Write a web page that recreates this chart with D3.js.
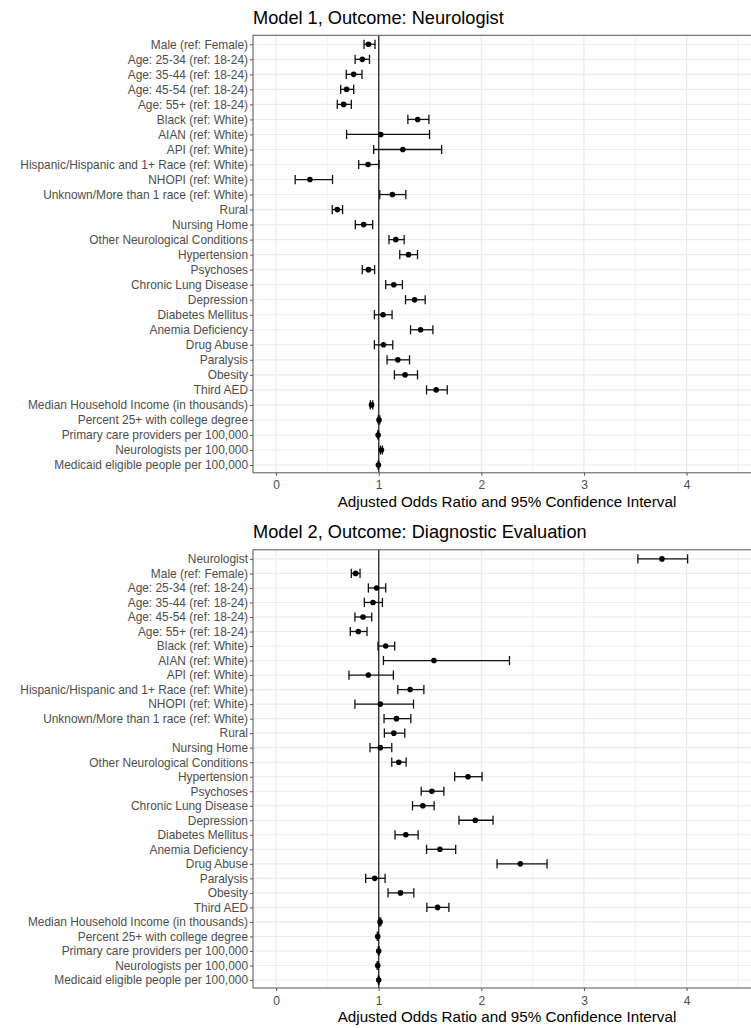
<!DOCTYPE html>
<html>
<head>
<meta charset="utf-8">
<script src="https://cdn.jsdelivr.net/npm/d3@7"></script>
<style>
  body { margin: 0; background: #fff; }
  svg { display: block; font-family: 'Liberation Sans', Arial, sans-serif; }
  .grid line { stroke: #ebebeb; }
  .y-label { fill: #4d4d4d; font-size: 11.9px; }
  .x-tick { fill: #4d4d4d; font-size: 12px; }
</style>
</head>
<body>
<div id="vis"></div>
<script>
const covariates = [
  'Male (ref: Female)', 'Age: 25-34 (ref: 18-24)', 'Age: 35-44 (ref: 18-24)',
  'Age: 45-54 (ref: 18-24)', 'Age: 55+ (ref: 18-24)', 'Black (ref: White)',
  'AIAN (ref: White)', 'API (ref: White)', 'Hispanic/Hispanic and 1+ Race (ref: White)',
  'NHOPI (ref: White)', 'Unknown/More than 1 race (ref: White)', 'Rural',
  'Nursing Home', 'Other Neurological Conditions', 'Hypertension', 'Psychoses',
  'Chronic Lung Disease', 'Depression', 'Diabetes Mellitus', 'Anemia Deficiency',
  'Drug Abuse', 'Paralysis', 'Obesity', 'Third AED',
  'Median Household Income (in thousands)', 'Percent 25+ with college degree',
  'Primary care providers per 100,000', 'Neurologists per 100,000',
  'Medicaid eligible people per 100,000'
]

// Model 1, outcome: neurologist
const labels1 = covariates
const or1 = [0.90, 0.84, 0.756, 0.687, 0.658, 1.38, 1.02, 1.235, 0.896, 0.33, 1.134, 0.596,
  0.853, 1.166, 1.29, 0.90, 1.147, 1.349, 1.042, 1.408, 1.046, 1.186, 1.257, 1.56,
  0.93, 1.003, 0.994, 1.026, 0.997]
const lo1 = [0.857, 0.77, 0.684, 0.629, 0.596, 1.284, 0.687, 0.951, 0.805, 0.186, 1.01, 0.547,
  0.772, 1.10, 1.205, 0.84, 1.068, 1.261, 0.958, 1.31, 0.958, 1.081, 1.153, 1.466,
  0.918, 0.995, 0.99, 1.016, 0.994]
const hi1 = [0.964, 0.91, 0.837, 0.756, 0.733, 1.489, 1.495, 1.613, 1.003, 0.55, 1.264, 0.648,
  0.941, 1.248, 1.378, 0.96, 1.231, 1.453, 1.13, 1.528, 1.137, 1.30, 1.378, 1.668,
  0.942, 1.011, 0.998, 1.036, 1.0]

// Model 2, outcome: diagnostic evaluation
const labels2 = ['Neurologist'].concat(covariates)
const or2 = [3.76, 0.775, 0.98, 0.944, 0.847, 0.801, 1.068, 1.538, 0.899, 1.306, 1.016, 1.173,
  1.147, 1.016, 1.195, 1.87, 1.518, 1.43, 1.941, 1.264, 1.596, 2.38, 0.961, 1.212, 1.574,
  1.013, 0.99, 1.0, 0.99, 1.0]
const lo2 = [3.525, 0.733, 0.899, 0.86, 0.768, 0.723, 0.993, 1.046, 0.71, 1.186, 0.768, 1.052,
  1.055, 0.915, 1.127, 1.74, 1.414, 1.329, 1.782, 1.159, 1.466, 2.153, 0.873, 1.091, 1.469,
  1.006, 0.986, 0.996, 0.985, 0.996]
const hi2 = [4.01, 0.818, 1.068, 1.036, 0.932, 0.886, 1.156, 2.274, 1.143, 1.44, 1.339, 1.313,
  1.254, 1.127, 1.267, 2.007, 1.635, 1.54, 2.114, 1.384, 1.75, 2.64, 1.062, 1.342, 1.684,
  1.02, 0.994, 1.004, 0.995, 1.004]

const xTicks = [0, 1, 2, 3, 4]
const xMinor = [0.5, 1.5, 2.5, 3.5, 4.5]
const xTitle = 'Adjusted Odds Ratio and 95% Confidence Interval'

const width = 751
const height = 1028

const svg = d3.select('#vis').append('svg')
  .attr('width', width)
  .attr('height', height)
  .attr('viewBox', [0, 0, width, height])

const drawPanel = (opts) => {
  const { title, labels, est, lo, hi, top, bottom, firstRow, lastRow } = opts
  const left = 253
  const right = 761

  const x = d3.scaleLinear()
    .domain([-0.225, 4.725])
    .range([left, right])

  const y = d3.scalePoint()
    .domain(labels)
    .range([firstRow, lastRow])

  const g = svg.append('g')

  g.append('text')
    .attr('x', left)
    .attr('y', top - 11.5)
    .attr('font-size', 18.2)
    .attr('fill', '#000')
    .text(title)

  const grid = g.append('g').attr('class', 'grid')
  grid.selectAll('line.minor')
    .data(xMinor)
    .join('line')
    .attr('class', 'minor')
    .attr('x1', (d) => x(d)).attr('x2', (d) => x(d))
    .attr('y1', top).attr('y2', bottom)
    .attr('stroke-width', 0.6)
  grid.selectAll('line.major')
    .data(xTicks)
    .join('line')
    .attr('class', 'major')
    .attr('x1', (d) => x(d)).attr('x2', (d) => x(d))
    .attr('y1', top).attr('y2', bottom)
    .attr('stroke-width', 1.1)
  grid.selectAll('line.row')
    .data(labels)
    .join('line')
    .attr('class', 'row')
    .attr('x1', left).attr('x2', right)
    .attr('y1', (d) => y(d)).attr('y2', (d) => y(d))
    .attr('stroke-width', 1.1)

  // reference line at OR = 1
  g.append('line')
    .attr('x1', x(1)).attr('x2', x(1))
    .attr('y1', top).attr('y2', bottom)
    .attr('stroke', '#333')
    .attr('stroke-width', 1.4)

  const rows = labels.map((d, i) => ({ label: d, est: est[i], lo: lo[i], hi: hi[i] }))
  const bars = g.append('g').selectAll('g')
    .data(rows)
    .join('g')
    .attr('transform', (d) => `translate(0,${y(d.label)})`)

  bars.append('line')
    .attr('x1', (d) => x(d.lo)).attr('x2', (d) => x(d.hi))
    .attr('stroke', '#111').attr('stroke-width', 1.3)
  bars.append('line')
    .attr('x1', (d) => x(d.lo)).attr('x2', (d) => x(d.lo))
    .attr('y1', -4.6).attr('y2', 4.6)
    .attr('stroke', '#111').attr('stroke-width', 1.3)
  bars.append('line')
    .attr('x1', (d) => x(d.hi)).attr('x2', (d) => x(d.hi))
    .attr('y1', -4.6).attr('y2', 4.6)
    .attr('stroke', '#111').attr('stroke-width', 1.3)
  bars.append('circle')
    .attr('cx', (d) => x(d.est))
    .attr('r', 2.8)
    .attr('fill', '#000')

  // panel border
  g.append('rect')
    .attr('x', left).attr('y', top)
    .attr('width', right - left).attr('height', bottom - top)
    .attr('fill', 'none')
    .attr('stroke', '#555')
    .attr('stroke-width', 1)

  const yAxis = d3.axisLeft(y)
    .tickSizeInner(3)
    .tickSizeOuter(0)
    .tickPadding(2)
  const ya = g.append('g')
    .attr('transform', `translate(${left},0)`)
    .call(yAxis)
  ya.select('.domain').remove()
  ya.selectAll('line').attr('stroke', '#555')
  ya.selectAll('text')
    .attr('class', 'y-label')
    .attr('font-size', null)
    .attr('font-family', null)
    .attr('fill', null)

  const xAxis = d3.axisBottom(x)
    .tickValues(xTicks)
    .tickFormat(d3.format('d'))
    .tickSizeInner(3)
    .tickSizeOuter(0)
    .tickPadding(5)
  const xa = g.append('g')
    .attr('transform', `translate(0,${bottom})`)
    .call(xAxis)
  xa.select('.domain').remove()
  xa.selectAll('line').attr('stroke', '#555')
  xa.selectAll('text')
    .attr('class', 'x-tick')
    .attr('font-size', null)
    .attr('font-family', null)
    .attr('fill', null)

  g.append('text')
    .attr('x', (left + right) / 2)
    .attr('y', bottom + 34)
    .attr('text-anchor', 'middle')
    .attr('font-size', 15.2)
    .attr('fill', '#000')
    .text(xTitle)
}

drawPanel({
  title: 'Model 1, Outcome: Neurologist',
  labels: labels1, est: or1, lo: lo1, hi: hi1,
  top: 35.3, bottom: 472.8, firstRow: 44.3, lastRow: 465
})

drawPanel({
  title: 'Model 2, Outcome: Diagnostic Evaluation',
  labels: labels2, est: or2, lo: lo2, hi: hi2,
  top: 549.8, bottom: 988, firstRow: 558.9, lastRow: 980
})
</script>
</body>
</html>
